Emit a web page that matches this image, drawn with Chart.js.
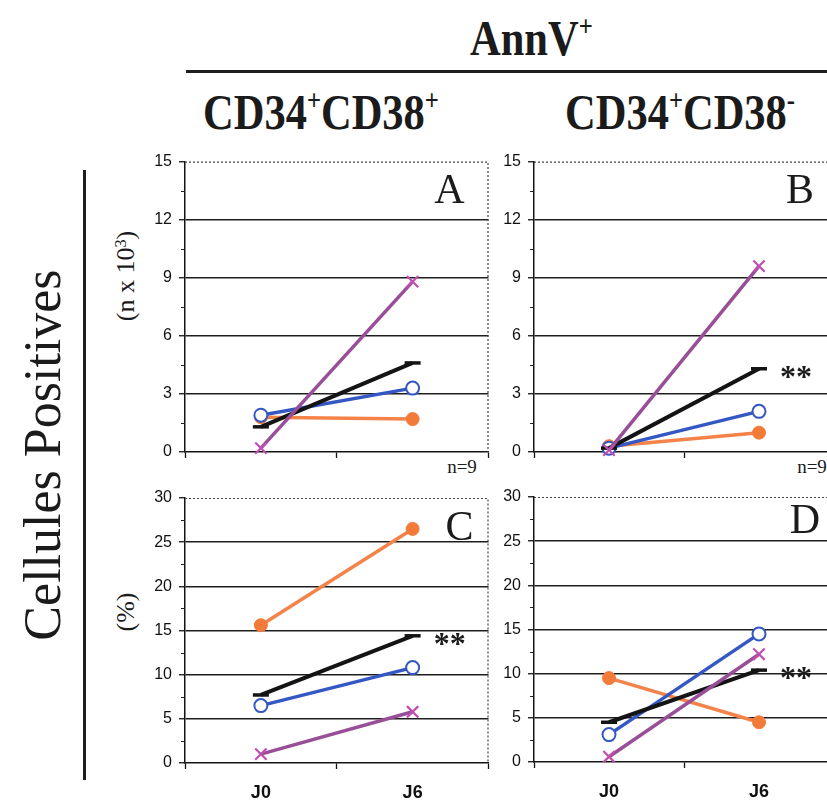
<!DOCTYPE html>
<html>
<head>
<meta charset="utf-8">
<script src="https://cdn.jsdelivr.net/npm/chart.js@4/dist/chart.umd.min.js"></script>
<style>
  html, body { margin: 0; padding: 0; background: #fff; overflow: hidden; }
  #page { position: relative; width: 827px; height: 800px; overflow: hidden; background: #fff; }
  #page canvas { position: absolute; }
  .hdr {
    position: absolute; white-space: nowrap; color: #1b1b1b;
    font-family: "Liberation Serif", "Times New Roman", serif; font-weight: bold;
    font-size: 50px; line-height: 1; transform-origin: left top; transform: scaleX(0.85);
  }
  .hdr sup { font-size: 0.58em; position: relative; top: -0.65em; vertical-align: baseline; line-height: 0; }
  .side {
    position: absolute; white-space: nowrap; color: #1b1b1b;
    font-family: "Liberation Serif", "Times New Roman", serif; line-height: 1;
    transform: translate(-50%, -50%) rotate(-90deg);
  }
  .side sup { font-size: 0.62em; position: relative; top: -0.5em; vertical-align: baseline; line-height: 0; }
  .note {
    position: absolute; white-space: nowrap; color: #1b1b1b;
    font-family: "Liberation Serif", "Times New Roman", serif; font-size: 19px; line-height: 1;
    transform: translate(-50%, -50%);
  }
  .rule { position: absolute; background: #1e1e1e; }
</style>
</head>
<body>
<div id="page">
  <div class="hdr" style="left:470px; top:13px;">AnnV<sup>+</sup></div>
  <div class="rule" style="left:186px; top:70px; width:641px; height:3px;"></div>
  <div class="hdr" style="left:203px; top:87px;">CD34<sup>+</sup>CD38<sup>+</sup></div>
  <div class="hdr" style="left:565px; top:87px;">CD34<sup>+</sup>CD38<sup>-</sup></div>

  <div class="rule" style="left:83px; top:170px; width:2.5px; height:610px;"></div>
  <div class="side" style="left:43px; top:455px; font-size:52px;">Cellules Positives</div>
  <div class="side" style="left:126px; top:276px; font-size:26px;">(n x 10<sup>3</sup>)</div>
  <div class="side" style="left:126px; top:612px; font-size:26px;">(%)</div>

  <div class="note" style="left:462px; top:466px;">n=9</div>
  <div class="note" style="left:812px; top:466px;">n=9</div>
</div>

<script>
// Days of measurement
const days = ['J0', 'J6'];

// Y-axis tick labels
const countTicks = [0, 3, 6, 9, 12, 15];
const percentTicks = [0, 5, 10, 15, 20, 25, 30];

// CD34+CD38+, absolute counts (n x 10^3)
const aCircle = [1.9, 3.3];
const aDot    = [1.8, 1.7];
const aCross  = [0.2, 8.8];
const aMean   = [1.3, 4.6];

// CD34+CD38-, absolute counts (n x 10^3)
const bCircle = [0.2, 2.1];
const bDot    = [0.3, 1.0];
const bCross  = [0.1, 9.6];
const bMean   = [0.2, 4.3];

// CD34+CD38+, percentages
const cCircle = [6.5, 10.8];
const cDot    = [15.6, 26.5];
const cCross  = [1.0, 5.8];
const cMean   = [7.7, 14.4];

// CD34+CD38-, percentages
const dCircle = [3.1, 14.5];
const dDot    = [9.5, 4.5];
const dCross  = [0.6, 12.2];
const dMean   = [4.5, 10.4];

const INK = '#141414';
const BLUE = '#3457c4';
const ORANGE = '#f4834a';
const PURPLE = '#984f97';
const PINK = '#c24fb0';

function circleSeries(data) {
  return { data, borderColor: BLUE, borderWidth: 3.5, pointStyle: 'circle', pointRadius: 6.5,
           pointBackgroundColor: '#ffffff', pointBorderColor: BLUE, pointBorderWidth: 2,
           order: 3, clip: false, tension: 0 };
}
function dotSeries(data) {
  return { data, borderColor: ORANGE, borderWidth: 3.5, pointStyle: 'circle', pointRadius: 6.5,
           pointBackgroundColor: '#f27b3a', pointBorderColor: '#f27b3a', pointBorderWidth: 1,
           order: 4, clip: false, tension: 0 };
}
function crossSeries(data) {
  return { data, borderColor: PURPLE, borderWidth: 3.5, pointStyle: 'crossRot', pointRadius: 8,
           pointBorderColor: PINK, pointBackgroundColor: PINK, pointBorderWidth: 2.2,
           order: 1, clip: false, tension: 0 };
}
function meanSeries(data) {
  return { data, borderColor: INK, borderWidth: 4, pointStyle: 'line', pointRadius: 8,
           pointBorderColor: INK, pointBorderWidth: 3.5, isMean: true,
           order: 2, clip: false, tension: 0 };
}

// Dotted frame, minor ticks, panel letter and significance stars
const panelDecor = {
  id: 'panelDecor',
  afterDraw(chart, args, opts) {
    const { ctx, chartArea: a, scales } = chart;
    ctx.save();
    // dotted top and right border
    ctx.strokeStyle = '#444';
    ctx.lineWidth = 1.2;
    ctx.setLineDash([2, 2]);
    ctx.beginPath();
    ctx.moveTo(a.left, a.top + 0.5);
    ctx.lineTo(a.right - 0.5, a.top + 0.5);
    ctx.lineTo(a.right - 0.5, a.bottom);
    ctx.stroke();
    ctx.setLineDash([]);

    // minor ticks halfway between labelled ticks
    const y = scales.y;
    const vals = y.ticks.map(t => t.value);
    ctx.strokeStyle = '#222';
    ctx.lineWidth = 1.2;
    ctx.beginPath();
    for (let i = 0; i < vals.length - 1; i++) {
      const py = Math.round(y.getPixelForValue((vals[i] + vals[i + 1]) / 2)) + 0.5;
      ctx.moveTo(a.left - 4, py);
      ctx.lineTo(a.left, py);
    }
    ctx.stroke();

    // panel letter
    ctx.fillStyle = '#1b1b1b';
    ctx.font = '42px "Liberation Serif", "Times New Roman", serif';
    ctx.textAlign = 'center';
    ctx.textBaseline = 'alphabetic';
    ctx.fillText(opts.letter, a.right - opts.letterDx, a.top + opts.letterDy);

    // significance stars next to the last mean point
    if (opts.stars) {
      const idx = chart.data.datasets.findIndex(d => d.isMean);
      const meanData = chart.data.datasets[idx].data;
      const px = scales.x.getPixelForValue(meanData.length - 1) + opts.starsDx;
      const py = y.getPixelForValue(meanData[meanData.length - 1]);
      ctx.font = 'bold 32px "Liberation Serif", "Times New Roman", serif';
      ctx.textAlign = 'center';
      ctx.fillText('**', px, py + 18);
    }
    ctx.restore();
  }
};

const page = document.getElementById('page');

function makePanel(cfg) {
  const canvas = document.createElement('canvas');
  canvas.width = cfg.w;
  canvas.height = cfg.h;
  canvas.style.left = cfg.x + 'px';
  canvas.style.top = cfg.y + 'px';
  canvas.style.width = cfg.w + 'px';
  canvas.style.height = cfg.h + 'px';
  page.appendChild(canvas);

  const yTicks = cfg.yTicks;
  const yMax = yTicks[yTicks.length - 1];

  return new Chart(canvas, {
    type: 'line',
    data: {
      labels: days,
      datasets: [circleSeries(cfg.circle), dotSeries(cfg.dot), crossSeries(cfg.cross), meanSeries(cfg.mean)]
    },
    options: {
      responsive: false,
      animation: false,
      devicePixelRatio: 1,
      layout: { padding: { top: cfg.area.top - cfg.y, right: cfg.x + cfg.w - cfg.area.right, left: 0, bottom: 0 } },
      plugins: {
        legend: { display: false },
        tooltip: { enabled: false },
        panelDecor: { letter: cfg.letter, letterDx: cfg.letterDx, letterDy: cfg.letterDy,
                      stars: cfg.stars, starsDx: 37 }
      },
      scales: {
        x: {
          type: 'category',
          offset: true,
          grid: { offset: true, drawOnChartArea: false, drawTicks: true, tickLength: 6,
                  tickColor: INK, tickWidth: 1.3, color: INK },
          border: { display: true, color: INK, width: 1.5 },
          ticks: {
            color: '#111', padding: 13,
            font: { family: '"Liberation Sans", Arial, sans-serif', size: 18, weight: 'bold' },
            callback: function (v) { return cfg.showDays ? this.getLabelForValue(v) : ''; }
          },
          afterFit: s => { s.height = cfg.y + cfg.h - cfg.area.bottom; }
        },
        y: {
          min: 0,
          max: yMax,
          afterBuildTicks: s => { s.ticks = yTicks.map(v => ({ value: v })); },
          grid: {
            color: c => (c.tick && (c.tick.value === 0 || c.tick.value === yMax)) ? 'rgba(0,0,0,0)' : '#1e1e1e',
            lineWidth: 1.5, drawTicks: true, tickLength: 6, tickColor: INK, tickWidth: 1.3
          },
          border: { display: true, color: INK, width: 1.5 },
          ticks: {
            color: '#111', padding: 7,
            font: { family: '"Liberation Sans", Arial, sans-serif', size: 16 }
          },
          afterFit: s => { s.width = cfg.area.left - cfg.x; }
        }
      }
    },
    plugins: [panelDecor]
  });
}

makePanel({ x: 120, y: 145, w: 380, h: 325, area: { left: 185, top: 161, right: 489, bottom: 452 },
            yTicks: countTicks, circle: aCircle, dot: aDot, cross: aCross, mean: aMean,
            letter: 'A', letterDx: 39, letterDy: 41, stars: false, showDays: false });
makePanel({ x: 470, y: 145, w: 380, h: 325, area: { left: 534, top: 161, right: 834, bottom: 452 },
            yTicks: countTicks, circle: bCircle, dot: bDot, cross: bCross, mean: bMean,
            letter: 'B', letterDx: 34, letterDy: 41, stars: true, showDays: false });
makePanel({ x: 120, y: 478, w: 380, h: 322, area: { left: 185, top: 498, right: 489, bottom: 763 },
            yTicks: percentTicks, circle: cCircle, dot: cDot, cross: cCross, mean: cMean,
            letter: 'C', letterDx: 29, letterDy: 42, stars: true, showDays: true });
makePanel({ x: 470, y: 478, w: 380, h: 322, area: { left: 534, top: 497, right: 834, bottom: 762 },
            yTicks: percentTicks, circle: dCircle, dot: dDot, cross: dCross, mean: dMean,
            letter: 'D', letterDx: 29, letterDy: 36, stars: true, showDays: true });
</script>
</body>
</html>
